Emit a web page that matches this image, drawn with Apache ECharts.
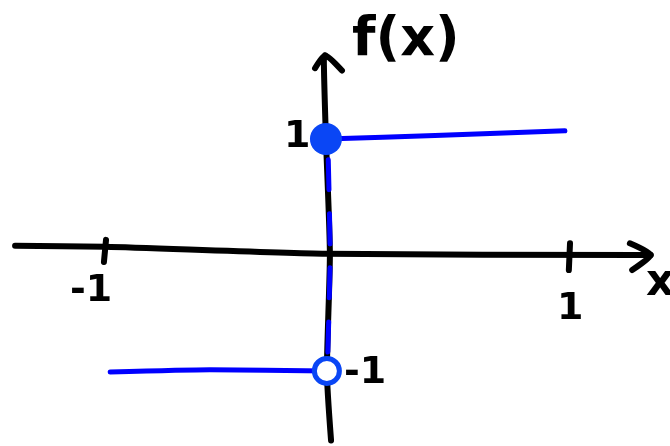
<!DOCTYPE html>
<html>
<head>
<meta charset="utf-8">
<script src="https://cdn.jsdelivr.net/npm/echarts@6/dist/echarts.min.js"></script>
<style>
  html, body { margin: 0; padding: 0; background: #fff; }
  #stepChart { width: 670px; height: 446px; }
</style>
</head>
<body>
<div id="stepChart"></div>
<script>
// sketch of f(x) = 1 for x >= 0, -1 for x < 0 (hand drawn axes)
var xAxisLine = [[-1.34, 0.08], [-0.95, 0.07], [0, 0.01], [1.35, 0], [1.4, 0]];
var xArrow = [[1.31, 0.10], [1.4, 0], [1.32, -0.13]];
var yAxisLine = [[0.022, -1.6], [0.004, -1.0], [0.017, 0], [0, 1], [-0.009, 1.68], [-0.004, 1.72]];
var yArrow = [[-0.047, 1.61], [-0.004, 1.72], [0.069, 1.59]];
var tickMinus1 = [[-0.948, 0.13], [-0.957, -0.06]];
var tickPlus1 = [[1.052, 0.10], [1.047, -0.13]];

var upperPiece = [[0, 1], [0.47, 1.03], [1.03, 1.07]];
var lowerPiece = [[-0.93, -1.01], [-0.5, -0.99], [0, -1.0]];
var jumpDashes = [[0.01, 0.82], [0.018, 0], [0.008, -0.85]];
var closedPoint = [[0, 1]];
var openPoint = [[0.004, -1]];

var blue = "#0000ff";
var dotBlue = "#0a46f5";

function pen(name, data, color, width, extra) {
  var s = {
    name: name,
    type: "line",
    data: data,
    symbol: "none",
    silent: true,
    smooth: 0.2,
    lineStyle: { color: color, width: width, cap: "round", join: "round" },
  };
  if (extra) Object.assign(s.lineStyle, extra);
  return s;
}

var myChart = echarts.init(document.getElementById("stepChart"));
var hand = { fontFamily: "DejaVu Sans", fontWeight: "bold", fill: "#000" };

var option = {
  animation: false,
  grid: { left: 0, right: 0, top: 0, bottom: 0 },
  xAxis: { type: "value", min: -1.405, max: 1.483, show: false },
  yAxis: { type: "value", min: -1.647, max: 2.198, show: false },
  series: [
    pen("xaxis", xAxisLine, "#000", 6),
    pen("xarrow", xArrow, "#000", 6),
    pen("yaxis", yAxisLine, "#000", 6),
    pen("yarrow", yArrow, "#000", 6),
    pen("tick-1", tickMinus1, "#000", 6),
    pen("tick1", tickPlus1, "#000", 6),
    pen("jump", jumpDashes, blue, 5, { type: [30, 24] }),
    pen("upper", upperPiece, blue, 5),
    pen("lower", lowerPiece, blue, 5),
    {
      name: "closed",
      type: "scatter",
      data: closedPoint,
      symbolSize: 32,
      silent: true,
      z: 5,
      itemStyle: { color: dotBlue, opacity: 1 },
    },
    {
      name: "open",
      type: "scatter",
      data: openPoint,
      symbolSize: 25,
      silent: true,
      z: 5,
      itemStyle: { color: "#fff", borderColor: dotBlue, borderWidth: 5, opacity: 1 },
    },
  ],
  graphic: [
    { type: "text", left: 352, top: 14, style: Object.assign({ text: "f(x)", fontSize: 54 }, hand) },
    { type: "text", left: 646, top: 262, style: Object.assign({ text: "x", fontSize: 44 }, hand) },
    { type: "text", left: 70, top: 272, style: Object.assign({ text: "-1", fontSize: 38 }, hand) },
    { type: "text", left: 557, top: 290, style: Object.assign({ text: "1", fontSize: 38 }, hand) },
    { type: "text", left: 284, top: 118, style: Object.assign({ text: "1", fontSize: 38 }, hand) },
    { type: "text", left: 344, top: 354, style: Object.assign({ text: "-1", fontSize: 38 }, hand) },
  ],
};

myChart.setOption(option);
</script>
</body>
</html>
